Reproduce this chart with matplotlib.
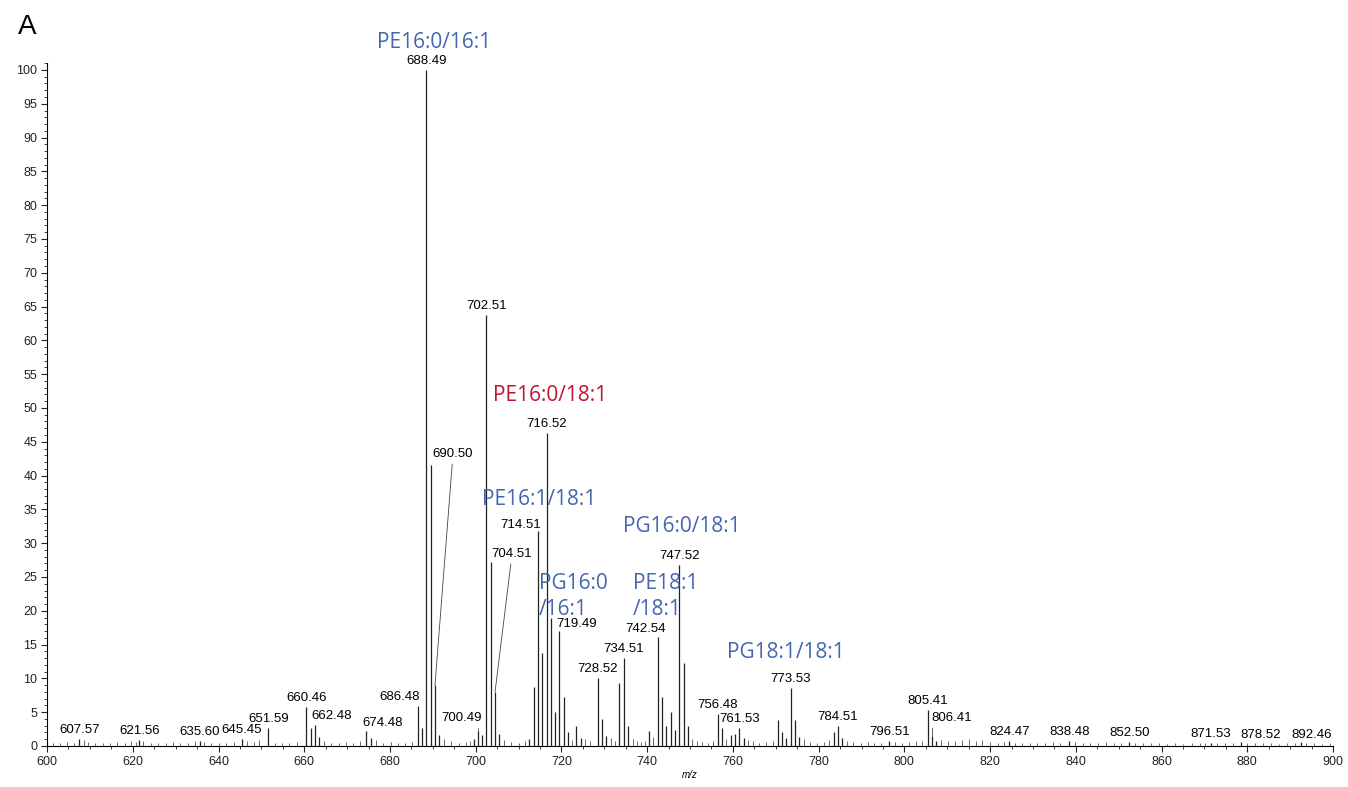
"""Mass spectrum, panel A"""
import matplotlib
matplotlib.use("Agg")
import matplotlib.pyplot as plt
from matplotlib.ticker import MultipleLocator

# labelled peaks (m/z, relative abundance)
label_mz = [607.57, 621.56, 635.60, 645.45, 651.59, 660.46, 662.48, 674.48, 686.48,
            688.49, 690.50, 700.49, 702.51, 704.51, 714.51, 716.52, 719.49, 728.52,
            734.51, 742.54, 747.52, 756.48, 761.53, 773.53, 784.51, 796.51, 805.41,
            806.41, 824.47, 838.48, 852.50, 871.53, 878.52, 892.46]
label_int = [1.0, 0.9, 0.8, 1.0, 2.6, 5.8, 3.1, 2.2, 5.9,
             100.0, 9.0, 2.2, 63.8, 8.0, 31.8, 46.3, 17.0, 10.0,
             13.0, 16.1, 26.8, 4.8, 2.6, 8.6, 3.0, 0.8, 5.3,
             1.5, 0.8, 0.7, 0.6, 0.5, 0.6, 0.6]

# other visible peaks without labels
other_mz = [661.5, 663.5, 675.5, 687.5, 689.49, 691.5, 699.5, 701.5, 703.51, 705.5,
            712.5, 713.5, 715.51, 717.52, 718.5, 720.49, 721.5, 723.5, 724.5, 729.52,
            730.5, 733.5, 735.5, 740.5, 743.54, 744.5, 745.5, 746.5, 748.52, 749.5,
            757.5, 759.5, 760.5, 762.5, 770.5, 771.5, 772.5, 774.5, 775.5, 783.5,
            785.5, 807.4]
other_int = [2.6, 1.4, 1.2, 2.6, 41.5, 1.6, 1.0, 1.6, 27.2, 1.8,
             1.0, 8.7, 13.8, 19.0, 5.0, 7.3, 2.0, 3.0, 1.2, 4.0,
             1.5, 9.3, 3.0, 2.2, 7.3, 3.0, 5.0, 2.4, 12.3, 3.0,
             2.7, 1.6, 1.8, 1.2, 3.8, 2.0, 1.2, 3.8, 1.4, 2.0,
             1.2, 0.8]

# baseline noise
noise_mz = [601.4, 603.1, 604.6, 606.2, 608.6, 609.5, 611.3, 613.0, 614.7, 616.4,
            618.1, 619.6, 620.8, 622.5, 624.2, 626.0, 627.7, 629.4, 631.1, 632.9,
            634.5, 636.6, 638.3, 640.1, 641.8, 643.5, 646.6, 648.2, 649.5, 653.2,
            654.9, 656.5, 658.3, 664.6, 666.2, 668.0, 669.7, 671.4, 673.1, 676.8,
            678.4, 680.2, 681.9, 683.6, 685.2, 692.6, 694.3, 696.0, 697.7, 698.6,
            706.6, 708.3, 710.0, 711.4, 722.4, 725.6, 726.6, 731.6, 732.5, 736.6,
            737.6, 738.5, 739.4, 741.4, 750.5, 751.6, 752.7, 754.2, 755.3, 758.5,
            763.5, 764.6, 766.2, 767.8, 769.3, 776.5, 778.0, 779.6, 781.2, 782.4,
            786.5, 788.1, 789.8, 791.4, 793.0, 794.6, 797.8, 799.4, 801.0, 802.7,
            804.2, 808.5, 810.2, 811.8, 813.4, 815.0, 816.6, 818.2, 820.0, 821.8,
            823.3, 825.8, 827.5, 829.2, 831.0, 832.8, 834.6, 836.3, 839.8, 841.6,
            843.4, 845.2, 847.0, 848.8, 850.6, 853.9, 855.7, 857.6, 859.4, 861.3,
            863.2, 865.1, 867.0, 868.9, 870.2, 872.9, 874.8, 876.6, 879.9, 881.8,
            883.6, 885.5, 887.4, 889.3, 891.1, 893.8, 895.6, 897.5, 899.2]
noise_int = [0.5, 0.4, 0.6, 0.5, 0.9, 0.6, 0.4, 0.5, 0.4, 0.6,
             0.5, 0.7, 0.6, 0.8, 0.5, 0.4, 0.5, 0.6, 0.4, 0.5,
             0.7, 0.6, 0.5, 0.4, 0.5, 0.6, 0.8, 0.6, 0.9, 0.5,
             0.4, 0.5, 0.6, 0.8, 0.5, 0.4, 0.6, 0.5, 0.7, 0.9,
             0.5, 0.6, 0.5, 0.4, 0.6, 1.1, 0.7, 0.5, 0.6, 0.8,
             0.9, 0.6, 0.5, 0.7, 0.9, 1.0, 0.7, 1.2, 0.8, 1.0,
             0.8, 0.6, 0.7, 1.3, 1.0, 0.7, 0.6, 0.5, 0.8, 1.0,
             0.9, 0.7, 0.5, 0.6, 0.8, 1.0, 0.6, 0.5, 0.6, 0.9,
             0.8, 0.6, 0.5, 0.6, 0.4, 0.5, 0.6, 0.5, 0.6, 0.7,
             0.8, 0.9, 0.7, 0.8, 0.9, 1.0, 0.8, 0.9, 0.6, 0.5,
             0.6, 0.5, 0.4, 0.5, 0.4, 0.5, 0.6, 0.5, 0.6, 0.5,
             0.4, 0.5, 0.6, 0.5, 0.4, 0.5, 0.4, 0.5, 0.4, 0.3,
             0.4, 0.3, 0.4, 0.5, 0.4, 0.4, 0.5, 0.4, 0.5, 0.4,
             0.5, 0.4, 0.3, 0.4, 0.5, 0.4, 0.5, 0.3, 0.4]

# lipid assignments
lipid_names = ["PE16:0/16:1", "PE16:0/18:1", "PE16:1/18:1", "PG16:0/18:1",
               "PG16:0\n/16:1", "PE18:1\n/18:1", "PG18:1/18:1"]
lipid_mz = [690.4, 717.3, 714.9, 748.0, 714.8, 736.7, 772.4]
lipid_int = [104.0, 51.8, 36.4, 32.4, 22.1, 22.1, 13.8]

BLUE = "#4466b0"
RED = "#c4122f"
lipid_colors = [BLUE, RED, BLUE, BLUE, BLUE, BLUE, BLUE]
lipid_ha = ["center", "center", "center", "center", "left", "left", "center"]

# label placement tweaks in pixels: (dx, dy, ha, leader)
label_pos = {
    662.48: (-3, 3, "left", None),
    674.48: (-4, 2, "left", None),
    686.48: (2, 3, "right", None),
    690.50: (18, 225, "center", "line"),
    700.49: (-16, 7, "center", "angle"),
    704.51: (17, 132, "center", "line"),
    714.51: (3, 0, "right", None),
    719.49: (-3, 1, "left", None),
    742.54: (-13, 2, "center", None),
    806.41: (20, 12, "center", "angle2"),
    878.52: (-1, 1, "left", None),
    892.46: (11, 1, "center", None),
}

fig = plt.figure(figsize=(13.48, 7.87), dpi=100)
ax = fig.add_axes([0.0349, 0.0521, 0.954, 0.8676])

ax.vlines(noise_mz, 0, noise_int, color="#555555", lw=0.6)
ax.vlines(other_mz, 0, other_int, color="#222222", lw=0.9)
ax.vlines(label_mz, 0, label_int, color="#222222", lw=0.9)

for mz, h in zip(label_mz, label_int):
    dx, dy, ha, leader = label_pos.get(mz, (0, 3, "center", None))
    txt = f"{mz:.2f}"
    if leader is None:
        ax.annotate(txt, (mz, h), xytext=(dx, dy), textcoords="offset pixels",
                    ha=ha, va="bottom", fontsize=9.5, family="Liberation Sans")
    else:
        if leader == "line":
            cs = "arc3"
        elif leader == "angle":
            cs = "angle,angleA=0,angleB=90,rad=0"
        else:
            cs = "angle,angleA=180,angleB=90,rad=0"
        ax.annotate(txt, (mz, h), xytext=(dx, dy), textcoords="offset pixels",
                    ha=ha, va="bottom", fontsize=9.5, family="Liberation Sans",
                    arrowprops=dict(arrowstyle="-", color="#444444", lw=0.6,
                                    shrinkA=1, shrinkB=0, connectionstyle=cs))

for name, x, y, c, ha in zip(lipid_names, lipid_mz, lipid_int, lipid_colors, lipid_ha):
    ax.text(x, y, name, color=c, ha=ha, va="center", fontsize=15,
            family="Open Sans", linespacing=1.3, clip_on=False)

ax.set_xlim(600, 900)
ax.set_ylim(0, 101)
ax.xaxis.set_major_locator(MultipleLocator(20))
ax.xaxis.set_minor_locator(MultipleLocator(5))
ax.yaxis.set_major_locator(MultipleLocator(5))
ax.yaxis.set_minor_locator(MultipleLocator(1))
ax.tick_params(which="major", length=4, width=0.8, labelsize=9, colors="#222222", pad=3)
ax.tick_params(which="minor", length=2, width=0.6, colors="#222222")
for lab in ax.get_xticklabels() + ax.get_yticklabels():
    lab.set_family("Liberation Sans")
ax.spines["top"].set_visible(False)
ax.spines["right"].set_visible(False)
ax.spines["left"].set_linewidth(0.8)
ax.spines["bottom"].set_linewidth(0.8)
ax.set_xlabel("m/z", fontsize=7, style="italic", labelpad=2, family="Liberation Sans")

fig.text(27 / 1348, 1 - 27 / 787, "A", fontsize=20, ha="center", va="center",
         family="Liberation Sans")

fig.savefig("out.png", dpi=100)
